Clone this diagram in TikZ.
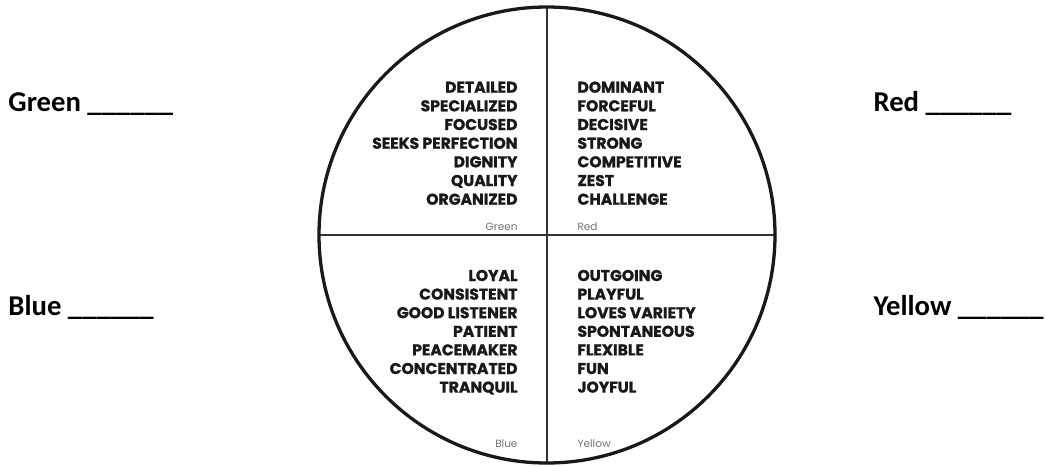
\documentclass[tikz,border=0pt]{standalone}
\usepackage{fontspec}
\newfontfamily\labfont{Carlito}
\newfontfamily\geofont{Poppins}[BoldFeatures={FakeBold=1.2}]
\begin{document}
\begin{tikzpicture}[x=1pt,y=-1pt,
  word/.style={inner sep=0pt,font=\geofont\bfseries\fontsize{15.6}{15.6}\selectfont,text=black!90},
  wl/.style={word,anchor=base east},
  wr/.style={word,anchor=base west},
  tag/.style={inner sep=0pt,font=\geofont\fontsize{10.5}{10.5}\selectfont,text=black!55},
  side/.style={inner sep=0pt,anchor=base west,font=\labfont\bfseries\fontsize{28.7}{28.7}\selectfont}]
\useasboundingbox (0,0) rectangle (1045,466);
\coordinate (c) at (547,235);
\coordinate (top) at (547,7);
\coordinate (bot) at (547,463);
\coordinate (lft) at (319,235);
\coordinate (rgt) at (775,235);
\draw[line width=1.5pt,black!80] (top) -- (bot);
\draw[line width=1.5pt,black!80] (lft) -- (rgt);
\draw[line width=3.3pt,black!90] (c) circle (228);
% Green quadrant
\node[wl] (g1) at (517.7,92.7) {DETAILED};
\node[wl] (g2) at (517.7,111.3) {SPECIALIZED};
\node[wl] (g3) at (517.7,130) {FOCUSED};
\node[wl] (g4) at (517.7,148.7) {SEEKS PERFECTION};
\node[wl] (g5) at (517.7,167.3) {DIGNITY};
\node[wl] (g6) at (517.7,186) {QUALITY};
\node[wl] (g7) at (517.7,204.7) {ORGANIZED};
\node[tag,anchor=base east] (gt) at (517.7,230) {Green};
% Red quadrant
\node[wr] (r1) at (577.3,92.7) {DOMINANT};
\node[wr] (r2) at (577.3,111.3) {FORCEFUL};
\node[wr] (r3) at (577.3,130) {DECISIVE};
\node[wr] (r4) at (577.3,148.7) {STRONG};
\node[wr] (r5) at (577.3,167.3) {COMPETITIVE};
\node[wr] (r6) at (577.3,186) {ZEST};
\node[wr] (r7) at (577.3,204.7) {CHALLENGE};
\node[tag,anchor=base west] (rt) at (577.3,230) {Red};
% Blue quadrant
\node[wl] (b1) at (517.7,281) {LOYAL};
\node[wl] (b2) at (517.7,299.6) {CONSISTENT};
\node[wl] (b3) at (517.7,318.2) {GOOD LISTENER};
\node[wl] (b4) at (517.7,336.8) {PATIENT};
\node[wl] (b5) at (517.7,355.4) {PEACEMAKER};
\node[wl] (b6) at (517.7,374) {CONCENTRATED};
\node[wl] (b7) at (517.7,392.6) {TRANQUIL};
\node[tag,anchor=base east] (bt) at (517.7,447) {Blue};
% Yellow quadrant
\node[wr] (y1) at (577.3,281) {OUTGOING};
\node[wr] (y2) at (577.3,299.6) {PLAYFUL};
\node[wr] (y3) at (577.3,318.2) {LOVES VARIETY};
\node[wr] (y4) at (577.3,336.8) {SPONTANEOUS};
\node[wr] (y5) at (577.3,355.4) {FLEXIBLE};
\node[wr] (y6) at (577.3,374) {FUN};
\node[wr] (y7) at (577.3,392.6) {JOYFUL};
\node[tag,anchor=base west] (yt) at (577.3,447) {Yellow};
% side labels
\node[side] (sg) at (8.3,111.7) {Green \_\_\_\_\_\_};
\node[side] (sb) at (8.3,315) {Blue \_\_\_\_\_\_};
\node[side] (sr) at (873.3,111.7) {Red \_\_\_\_\_\_};
\node[side] (sy) at (873.3,315) {Yellow \_\_\_\_\_\_};
\end{tikzpicture}
\end{document}
